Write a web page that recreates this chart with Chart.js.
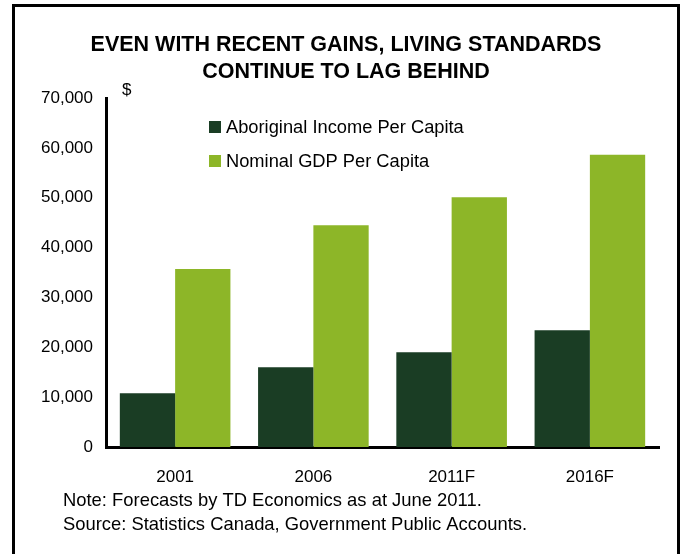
<!DOCTYPE html>
<html>
<head>
<meta charset="utf-8">
<script src="https://cdn.jsdelivr.net/npm/chart.js@4.4.0/dist/chart.umd.min.js"></script>
<style>
  body { margin: 0; background: #fff; }
  #wrap { position: relative; width: 681px; height: 554px; }
  #frame { position: absolute; left: 12px; top: 4px; width: 662px; height: 560px;
           border: 3px solid #000; border-bottom: none; }
  canvas { position: absolute; left: 0; top: 0; }
</style>
</head>
<body>
<div id="wrap">
  <div id="frame"></div>
  <canvas id="chart" width="681" height="554"></canvas>
</div>
<script>
// data
const years = ['2001', '2006', '2011F', '2016F'];
const aboriginalIncome = [10800, 16000, 19000, 23400];
const nominalGdp = [35700, 44500, 50100, 58600];
const yTicks = [0, 10000, 20000, 30000, 40000, 50000, 60000, 70000];

const titleLines = ['EVEN WITH RECENT GAINS, LIVING STANDARDS', 'CONTINUE TO LAG BEHIND'];
const noteLines = ['Note: Forecasts by TD Economics as at June 2011.',
                   'Source: Statistics Canada, Government Public Accounts.'];

const darkGreen = '#1a3d24';
const lightGreen = '#8db628';
const font = 'Arial, "Liberation Sans", sans-serif';

// draws title, $ unit, legend and notes
const extras = {
  id: 'extras',
  afterDraw(chart) {
    const ctx = chart.ctx;
    ctx.save();
    ctx.fillStyle = '#000';
    ctx.textAlign = 'center';
    ctx.textBaseline = 'middle';
    ctx.font = 'bold 21.5px ' + font;
    ctx.fillText(titleLines[0], 346, 45);
    ctx.fillText(titleLines[1], 346, 72);

    ctx.textAlign = 'left';
    ctx.font = '17px ' + font;
    ctx.fillText('$', 122, 90);

    chart.data.datasets.forEach((ds, i) => {
      const y = 127 + i * 34;
      ctx.fillStyle = ds.backgroundColor;
      ctx.fillRect(209, y - 6, 12, 12);
      ctx.fillStyle = '#000';
      ctx.font = '18.3px ' + font;
      ctx.fillText(ds.label, 226, y + 1);
    });

    ctx.font = '18.4px ' + font;
    ctx.fillText(noteLines[0], 63, 501);
    ctx.fillText(noteLines[1], 63, 525);
    ctx.restore();
  }
};

new Chart(document.getElementById('chart'), {
  type: 'bar',
  data: {
    labels: years,
    datasets: [
      { label: 'Aboriginal Income Per Capita', data: aboriginalIncome, backgroundColor: darkGreen },
      { label: 'Nominal GDP Per Capita', data: nominalGdp, backgroundColor: lightGreen }
    ]
  },
  options: {
    responsive: false,
    animation: false,
    layout: { padding: { top: 98, right: 22, bottom: 0, left: 0 } },
    plugins: { legend: { display: false }, title: { display: false }, tooltip: { enabled: false } },
    datasets: { bar: { categoryPercentage: 0.8, barPercentage: 1.0 } },
    scales: {
      x: {
        grid: { display: false, drawTicks: false },
        border: { display: true, color: '#000', width: 3 },
        ticks: { color: '#000', font: { family: font, size: 17 }, padding: 20 },
        afterFit(scale) { scale.height = 107; }
      },
      y: {
        min: 0,
        max: 70000,
        grid: { display: false, drawTicks: false },
        border: { display: true, color: '#000', width: 3 },
        afterBuildTicks(scale) { scale.ticks = yTicks.map(v => ({ value: v })); },
        ticks: {
          color: '#000',
          font: { family: font, size: 17 },
          padding: 13,
          callback: v => v.toLocaleString('en-US')
        },
        afterFit(scale) { scale.width = 106; }
      }
    }
  },
  plugins: [extras]
});
</script>
</body>
</html>
